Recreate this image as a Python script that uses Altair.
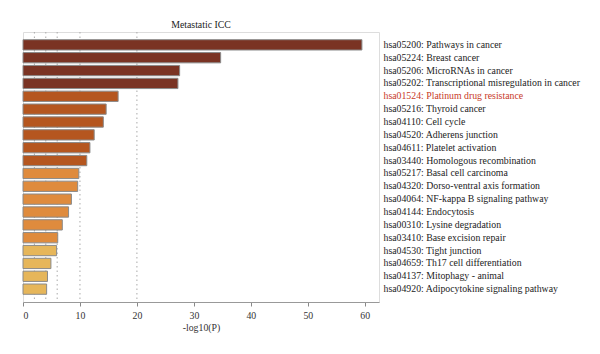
import altair as alt
import pandas as pd

terms = [
    "hsa05200: Pathways in cancer",
    "hsa05224: Breast cancer",
    "hsa05206: MicroRNAs in cancer",
    "hsa05202: Transcriptional misregulation in cancer",
    "hsa01524: Platinum drug resistance",
    "hsa05216: Thyroid cancer",
    "hsa04110: Cell cycle",
    "hsa04520: Adherens junction",
    "hsa04611: Platelet activation",
    "hsa03440: Homologous recombination",
    "hsa05217: Basal cell carcinoma",
    "hsa04320: Dorso-ventral axis formation",
    "hsa04064: NF-kappa B signaling pathway",
    "hsa04144: Endocytosis",
    "hsa00310: Lysine degradation",
    "hsa03410: Base excision repair",
    "hsa04530: Tight junction",
    "hsa04659: Th17 cell differentiation",
    "hsa04137: Mitophagy - animal",
    "hsa04920: Adipocytokine signaling pathway",
]
values = [59.5, 34.7, 27.5, 27.2, 16.7, 14.6, 14.1, 12.5, 11.75, 11.2,
          9.8, 9.6, 8.5, 8.0, 6.9, 6.1, 5.9, 4.9, 4.3, 4.15]
groups = ["a"] * 4 + ["b"] * 6 + ["c"] * 6 + ["d"] * 4
group_names = ["a", "b", "c", "d"]
group_colors = ["#7a3323", "#b5561f", "#df8b3d", "#e6b65a"]
ref_lines = [2, 4, 6, 10, 20]
highlight = "hsa01524: Platinum drug resistance"

df = pd.DataFrame({"term": terms, "value": values, "group": groups})
lines = pd.DataFrame({"v": ref_lines})

FONT = "'Liberation Serif', 'Times New Roman', Tinos, serif"
FS = 9.8

xscale = alt.Scale(domain=[0, 62.5], nice=False, zero=True)

rules = alt.Chart(lines).mark_rule(
    color="#aaaaaa", strokeDash=[1.5, 3], strokeWidth=1
).encode(x=alt.X("v:Q", scale=xscale))

bars = alt.Chart(df).mark_bar(
    stroke="#8a8a8a", strokeWidth=1
).encode(
    x=alt.X(
        "value:Q",
        scale=xscale,
        title="-log10(P)",
        axis=alt.Axis(
            values=[0, 10, 20, 30, 40, 50, 60],
            grid=False,
            tickColor="#888888",
            domainColor="#999999",
            tickSize=4,
            labelFont=FONT,
            labelFontSize=FS,
            labelColor="#333333",
            titleFont=FONT,
            titleFontSize=FS,
            titleFontWeight="normal",
            titleColor="#333333",
            titlePadding=3,
            labelPadding=4,
        ),
    ),
    y=alt.Y(
        "term:N",
        sort=None,
        title=None,
        scale=alt.Scale(paddingInner=0.2, paddingOuter=0.6),
        axis=alt.Axis(
            orient="right",
            ticks=False,
            domain=False,
            labelAlign="left",
            labelPadding=4,
            labelFont=FONT,
            labelFontSize=FS,
            labelLimit=300,
            labelColor={"expr": f"datum.value == '{highlight}' ? '#c8391f' : '#222222'"},
        ),
    ),
    color=alt.Color(
        "group:N",
        scale=alt.Scale(domain=group_names, range=group_colors),
        legend=None,
    ),
)

chart = alt.layer(rules, bars).properties(
    width=356,
    height=270,
    title=alt.TitleParams(
        "Metastatic ICC",
        font=FONT,
        fontSize=FS,
        fontWeight="normal",
        color="#222222",
        offset=2,
    ),
    autosize=alt.AutoSizeParams(type="none"),
    padding={"left": 23, "top": 32, "right": 221, "bottom": 52},
).configure_view(
    stroke="#a0a0a0", strokeWidth=1
).configure(background="white")

chart.save("out.html", embed_options={"renderer": "svg", "actions": False})
